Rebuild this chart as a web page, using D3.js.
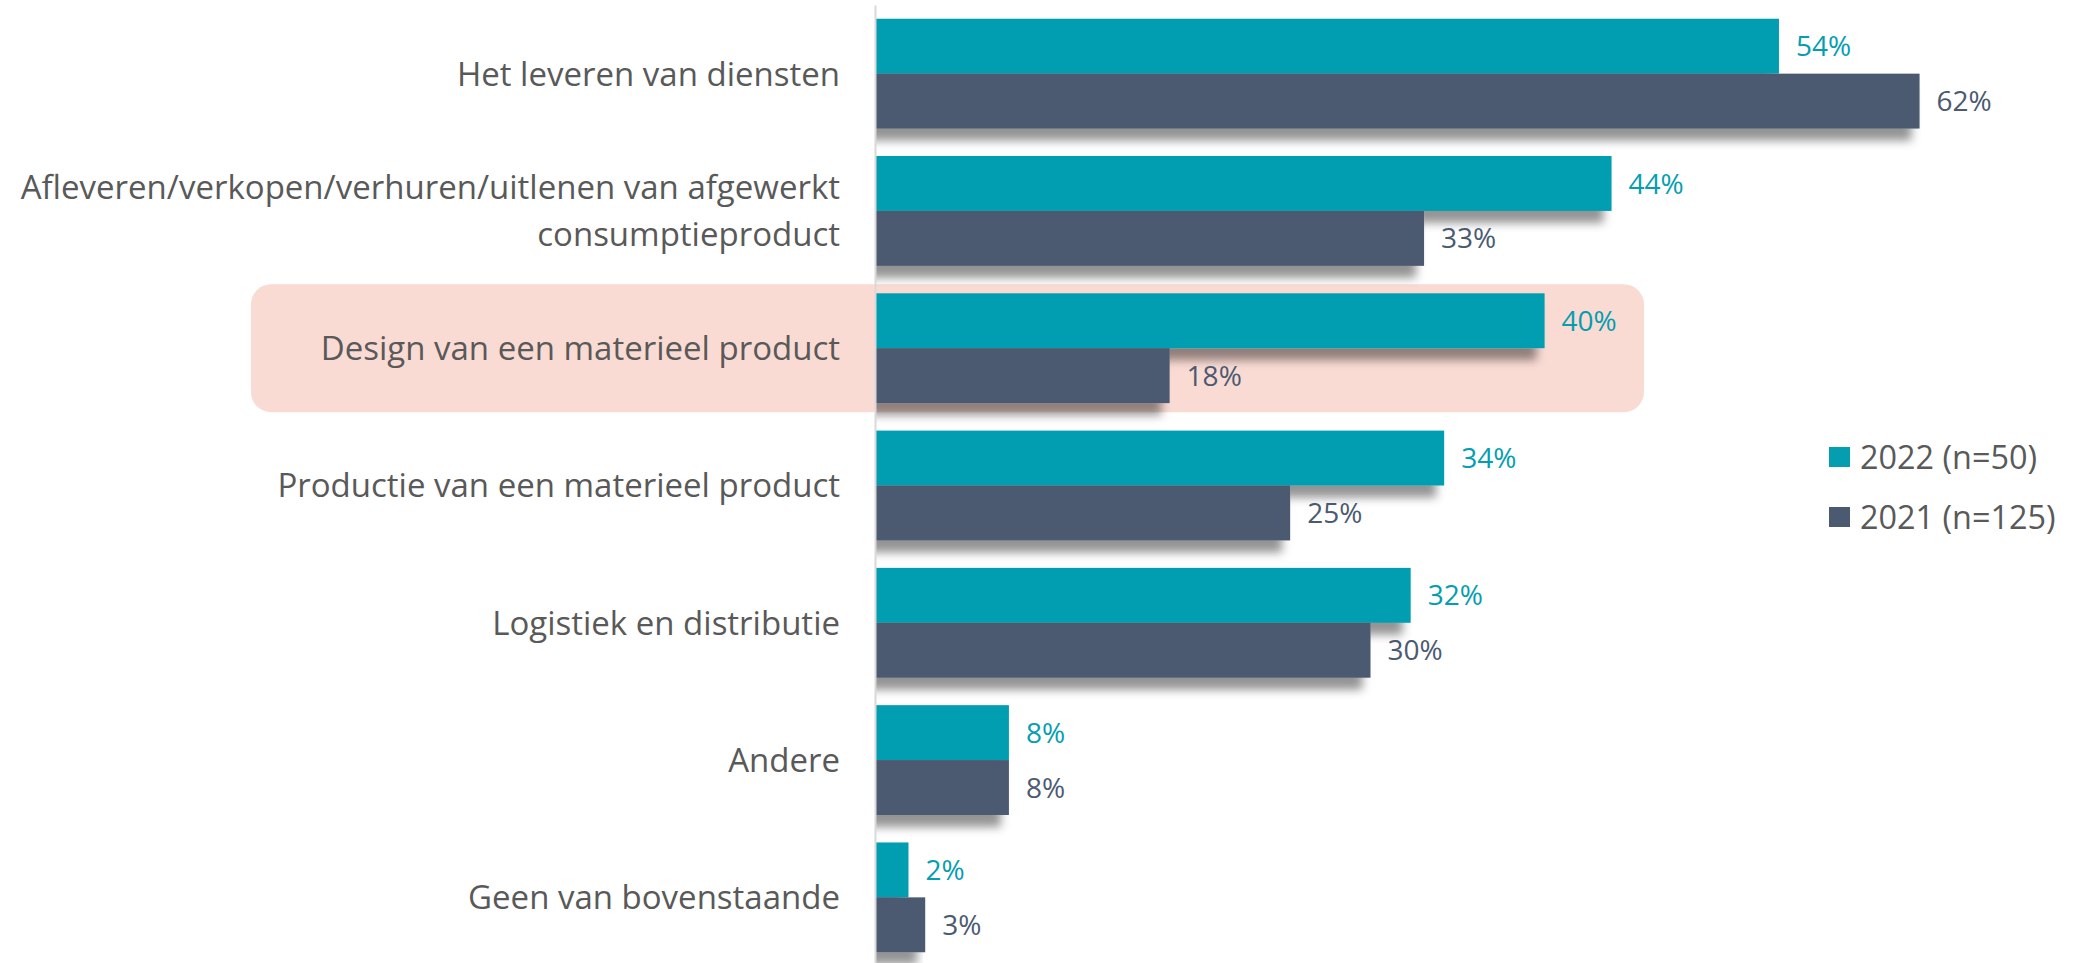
<!DOCTYPE html>
<html>
<head>
<meta charset="utf-8">
<script src="https://cdn.jsdelivr.net/npm/d3@7"></script>
<style>
  body { margin: 0; background: #fff; }
  svg { display: block; font-family: "Open Sans", sans-serif; }
</style>
</head>
<body>
<div></div>
<script>
const width = 2088;
const height = 963;

// data (bar lengths suggest unrounded 2021 values)
const categories = [
  "Het leveren van diensten",
  "Afleveren/verkopen/verhuren/uitlenen van afgewerkt consumptieproduct",
  "Design van een materieel product",
  "Productie van een materieel product",
  "Logistiek en distributie",
  "Andere",
  "Geen van bovenstaande"
];
const labelLines = [
  ["Het leveren van diensten"],
  ["Afleveren/verkopen/verhuren/uitlenen van afgewerkt", "consumptieproduct"],
  ["Design van een materieel product"],
  ["Productie van een materieel product"],
  ["Logistiek en distributie"],
  ["Andere"],
  ["Geen van bovenstaande"]
];
const values2022 = [54, 44, 40, 34, 32, 8, 2];
const values2021 = [62.4, 32.8, 17.6, 24.8, 29.6, 8, 3];
const seriesNames = ["2022 (n=50)", "2021 (n=125)"];
const highlighted = "Design van een materieel product";

const colors = ["#049eb0", "#4b5a71"];
const textColor = "#595959";

const svg = d3
  .select("div")
  .append("svg")
  .attr("width", width)
  .attr("height", height);

const defs = svg.append("defs");
const shadow = defs
  .append("filter")
  .attr("id", "shadow")
  .attr("x", "0")
  .attr("y", "0")
  .attr("width", "1.1")
  .attr("height", "1.6");
shadow.append("feGaussianBlur").attr("in", "SourceAlpha").attr("stdDeviation", 5);
shadow.append("feOffset").attr("dx", -8).attr("dy", 12).attr("result", "off");
shadow.append("feFlood").attr("flood-color", "#000").attr("flood-opacity", 0.42);
shadow.append("feComposite").attr("in2", "off").attr("operator", "in");
const merge = shadow.append("feMerge");
merge.append("feMergeNode");
merge.append("feMergeNode").attr("in", "SourceGraphic");

const scale_X = d3.scaleLinear().domain([0, 100]).range([875, 875 + 1674]);

const scale_Y = d3
  .scaleBand()
  .domain(categories)
  .range([5, 966])
  .paddingInner(0.2)
  .paddingOuter(0.1);

const scale_S = d3
  .scaleBand()
  .domain(seriesNames)
  .range([0, scale_Y.bandwidth()]);

// highlight box behind "Design"
svg
  .append("rect")
  .attr("x", 251)
  .attr("y", scale_Y(highlighted) - 9)
  .attr("width", 1644 - 251)
  .attr("height", scale_Y.bandwidth() + 18)
  .attr("rx", 20)
  .attr("fill", "#fadbd4");

const groups = svg
  .selectAll(".group")
  .data(categories)
  .enter()
  .append("g")
  .attr("class", "group")
  .attr("transform", (d) => "translate(0," + scale_Y(d) + ")");

groups
  .append("g")
  .attr("filter", "url(#shadow)")
  .selectAll("rect")
  .data((d, i) => [values2022[i], values2021[i]])
  .enter()
  .append("rect")
  .attr("x", scale_X(0))
  .attr("y", (d, j) => scale_S(seriesNames[j]))
  .attr("width", (d) => scale_X(d) - scale_X(0))
  .attr("height", scale_S.bandwidth())
  .attr("fill", (d, j) => colors[j]);

groups
  .selectAll(".val")
  .data((d, i) => [values2022[i], values2021[i]])
  .enter()
  .append("text")
  .attr("class", "val")
  .attr("x", (d) => scale_X(d) + 17)
  .attr("y", (d, j) => scale_S(seriesNames[j]) + scale_S.bandwidth() / 2)
  .attr("dy", "0.36em")
  .attr("font-size", 28)
  .attr("fill", (d, j) => colors[j])
  .text((d) => Math.round(d) + "%");

// axis line
const axis_Y = d3.axisLeft(scale_Y).tickSize(0).tickFormat("");
svg
  .append("g")
  .attr("transform", "translate(" + scale_X(0) + ",0)")
  .call(axis_Y)
  .call((g) => g.select(".domain").attr("stroke", "#d9d9d9").attr("stroke-width", 2));

// category labels
groups
  .append("text")
  .attr("text-anchor", "end")
  .attr("font-size", 33)
  .attr("fill", textColor)
  .attr("x", 840)
  .attr("y", scale_Y.bandwidth() / 2)
  .each(function (d, i) {
    const lines = labelLines[i];
    const lh = 47;
    d3.select(this)
      .selectAll("tspan")
      .data(lines)
      .enter()
      .append("tspan")
      .attr("x", 840)
      .attr("y", (l, k) => scale_Y.bandwidth() / 2 + (k - (lines.length - 1) / 2) * lh)
      .attr("dy", "0.36em")
      .text((l) => l);
  });

// legend
const legend = svg
  .append("g")
  .attr("id", "legend")
  .attr("transform", "translate(1829,447)");
const items = legend
  .selectAll("g")
  .data(seriesNames)
  .enter()
  .append("g")
  .attr("transform", (d, i) => "translate(0," + i * 60 + ")");
items
  .append("rect")
  .attr("width", 21)
  .attr("height", 20)
  .attr("fill", (d, i) => colors[i]);
items
  .append("text")
  .attr("x", 31)
  .attr("y", 10)
  .attr("dy", "0.36em")
  .attr("font-size", 32.4)
  .attr("fill", textColor)
  .text((d) => d);
</script>
</body>
</html>
